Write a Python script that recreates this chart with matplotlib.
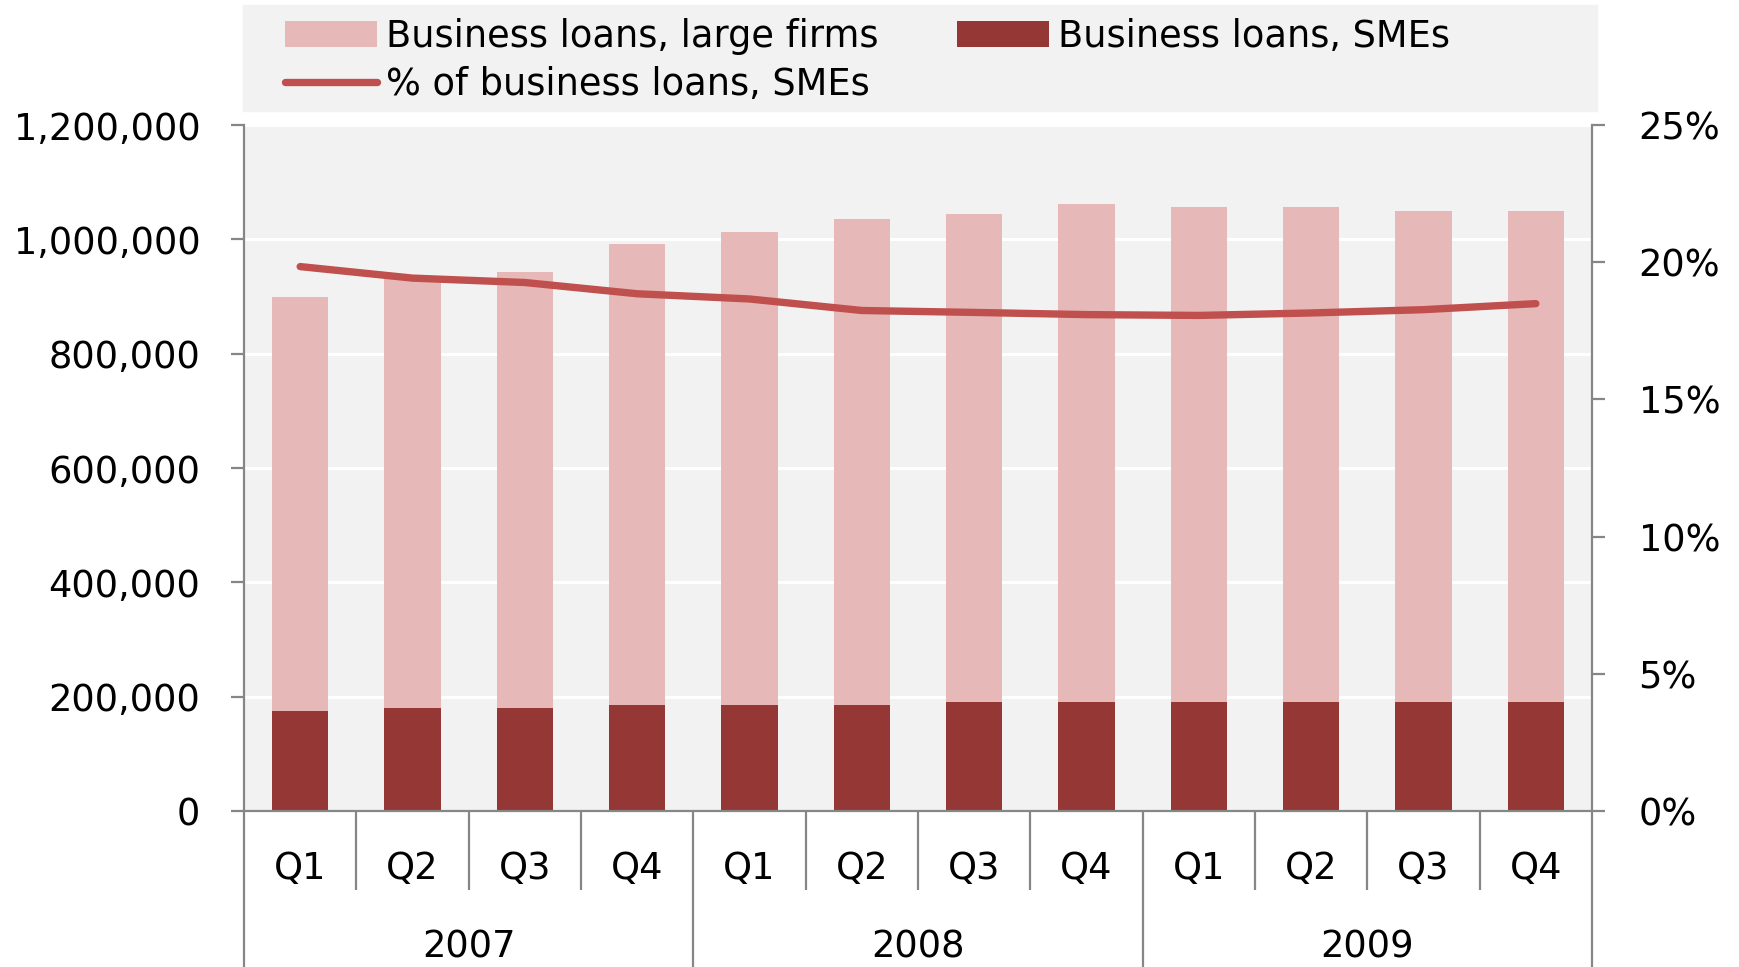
#!/usr/bin/env python3
"""
Business loans by firm size, quarterly 2007-2009: stacked bars (SMEs / large
firms) with the SME share on a secondary axis. Writes out.png.
"""
import matplotlib
matplotlib.use('Agg')
import matplotlib.pyplot as plt
from matplotlib.lines import Line2D
from matplotlib.patches import Patch, Rectangle
from matplotlib.ticker import FuncFormatter
import matplotlib.transforms as mtransforms

# --- data -------------------------------------------------------------------
years = ['2007', '2008', '2009']
quarters = ['Q1', 'Q2', 'Q3', 'Q4']
loans_sme = [175000, 180000, 180000, 186000, 186000, 186000,
             191000, 191000, 191000, 191000, 191000, 191000]
loans_large = [725000, 750000, 762000, 805000, 827000, 849000,
               854000, 871000, 865000, 865000, 859000, 859000]
sme_share = [0.1984, 0.1942, 0.1926, 0.1885, 0.1866, 0.1824,
             0.1817, 0.1809, 0.1806, 0.1815, 0.1827, 0.1849]
left_ticks = [0, 200000, 400000, 600000, 800000, 1000000, 1200000]
right_ticks = [0, 0.05, 0.10, 0.15, 0.20, 0.25]

# --- style --------------------------------------------------------------------
C_LARGE = '#E6B9B8'
C_SME = '#953735'
C_LINE = '#C0504D'
C_BG = '#F2F2F2'
C_AXIS = '#868686'
FS = 26.5

plt.rcParams['font.family'] = ['DejaVu Sans']
plt.rcParams['font.size'] = FS

W, H = 1739, 967
fig = plt.figure(figsize=(W / 100, H / 100), dpi=100)

def px(x0, y0, x1, y1):
    """pixel box (top-left origin) -> figure fraction rect"""
    return [x0 / W, 1 - y1 / H, (x1 - x0) / W, (y1 - y0) / H]

ax = fig.add_axes(px(244, 125, 1592, 811))
ax.set_facecolor(C_BG)

n = len(loans_sme)
x = list(range(n))
ax.bar(x, loans_sme, width=0.5, color=C_SME, zorder=2)
ax.bar(x, loans_large, width=0.5, bottom=loans_sme, color=C_LARGE, zorder=2)

ax.set_xlim(-0.5, n - 0.5)
ax.set_ylim(0, 1200000)
ax.set_yticks(left_ticks)
ax.yaxis.set_major_formatter(FuncFormatter(lambda v, p: f"{int(v):,}"))
ax.grid(axis='y', color='white', linewidth=2.2)
ax.set_axisbelow(True)
ax.set_xticks([])
ax.tick_params(axis='y', direction='out', length=9.5, width=1.6,
               color=C_AXIS, pad=22, labelsize=FS)
for s in ['top', 'right']:
    ax.spines[s].set_visible(False)
for s in ['left', 'bottom']:
    ax.spines[s].set_color(C_AXIS)
    ax.spines[s].set_linewidth(1.6)

ax2 = ax.twinx()
ax2.plot(x, sme_share, color=C_LINE, linewidth=5.3,
         solid_capstyle='round', solid_joinstyle='round', zorder=3)
ax2.set_ylim(0, 0.25)
ax2.set_yticks(right_ticks)
ax2.yaxis.set_major_formatter(FuncFormatter(lambda v, p: f"{v:.0%}"))
ax2.tick_params(axis='y', direction='out', length=9, width=1.6,
                color=C_AXIS, pad=24.5, labelsize=FS)
for s in ['top', 'left', 'bottom']:
    ax2.spines[s].set_visible(False)
ax2.spines['right'].set_color(C_AXIS)
ax2.spines['right'].set_linewidth(1.6)

# --- two-level category axis -------------------------------------------------
trans = mtransforms.blended_transform_factory(ax.transData, fig.transFigure)
ax_bottom = ax.get_position().y0
q_bottom = 1 - 890 / H
for i in range(n + 1):
    xb = i - 0.5
    y_end = 0 if i % len(quarters) == 0 else q_bottom
    ax.plot([xb, xb], [y_end, ax_bottom], transform=trans, color=C_AXIS,
            linewidth=1.6, clip_on=False, solid_capstyle='butt')

for i in range(n):
    ax.text(i, 1 - 868 / H, quarters[i % len(quarters)], transform=trans,
            ha='center', va='center', fontsize=FS)
for j, yr in enumerate(years):
    xc = j * len(quarters) + (len(quarters) - 1) / 2
    ax.text(xc, 1 - 947 / H, yr, transform=trans,
            ha='center', va='center', fontsize=FS)

# --- legend --------------------------------------------------------------------
box = px(243, 5, 1597, 111)
fig.patches.append(Rectangle(box[:2], box[2], box[3],
                             transform=fig.transFigure, color=C_BG, zorder=0))

h_large = Patch(facecolor=C_LARGE, edgecolor='none')
h_sme = Patch(facecolor=C_SME, edgecolor='none')
h_line = Line2D([], [], color=C_LINE, linewidth=5.3, solid_capstyle='round')

leg_kw = dict(frameon=False, fontsize=FS, handlelength=2.5, handleheight=0.68,
              handletextpad=0.25, labelspacing=0.30, borderpad=0,
              borderaxespad=0, loc='upper left')
fig.legend([h_large, h_line],
           ['Business loans, large firms', '% of business loans, SMEs'],
           bbox_to_anchor=(285 / W, 1 - 18 / H), **leg_kw)
fig.legend([h_sme], ['Business loans, SMEs'],
           bbox_to_anchor=(957 / W, 1 - 18 / H), **leg_kw)

fig.savefig('out.png', dpi=100)
plt.close(fig)
